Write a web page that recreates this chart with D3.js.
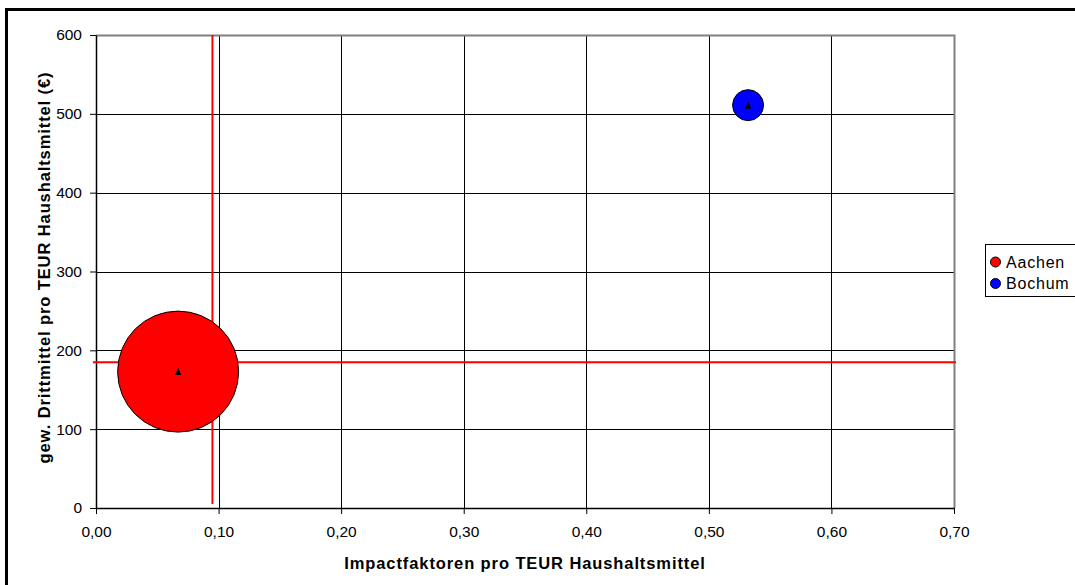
<!DOCTYPE html>
<html>
<head>
<meta charset="utf-8">
<script src="https://cdn.jsdelivr.net/npm/d3@7/dist/d3.min.js"></script>
<style>
  html, body { margin: 0; padding: 0; background: #fff; }
  svg { display: block; font-family: Arial, "Liberation Sans", sans-serif; }
</style>
</head>
<body>
<svg id="chart" width="1075" height="585"></svg>
<script>
// Universities, their coordinates and bubble sizes
const universities = ["Aachen", "Bochum"];
const impactPerTEUR = [0.067, 0.532];
const drittmittelPerTEUR = [173, 511];
const bubbleSize = [3050, 200];
const bubbleColors = ["#ff0000", "#0000ff"];

// Reference (average) lines
const refImpact = 0.095;
const refDrittmittel = 185;

// Axis ticks
const xTicks = [0, 0.1, 0.2, 0.3, 0.4, 0.5, 0.6, 0.7];
const yTicks = [0, 100, 200, 300, 400, 500, 600];

const svg = d3.select("#chart");
const plot = { left: 96, top: 35, right: 954, bottom: 508 };

const x = d3.scaleLinear().domain([0, 0.7]).range([plot.left, plot.right]);
const y = d3.scaleLinear().domain([0, 600]).range([plot.bottom, plot.top]);
const r = d3.scaleSqrt().domain([0, d3.max(bubbleSize)]).range([0, 60.5]);
const fmtX = v => d3.format(".2f")(v).replace(".", ",");

// outer chart frame
svg.append("rect")
  .attr("x", 6.5).attr("y", 9.5)
  .attr("width", 1100).attr("height", 600)
  .attr("fill", "none").attr("stroke", "#000").attr("stroke-width", 3);

// gridlines
svg.append("g").selectAll("line.v").data(xTicks.slice(1, -1)).join("line")
  .attr("x1", d => Math.round(x(d)) + 0.5).attr("x2", d => Math.round(x(d)) + 0.5)
  .attr("y1", plot.top).attr("y2", plot.bottom)
  .attr("stroke", "#000").attr("stroke-width", 1);
svg.append("g").selectAll("line.h").data(yTicks.slice(1, -1)).join("line")
  .attr("x1", plot.left).attr("x2", plot.right)
  .attr("y1", d => Math.round(y(d)) + 0.5).attr("y2", d => Math.round(y(d)) + 0.5)
  .attr("stroke", "#000").attr("stroke-width", 1);

// plot area border (top / right in grey)
svg.append("path")
  .attr("d", `M${plot.left},${plot.top + 0.5}H${plot.right + 0.5}V${plot.bottom}`)
  .attr("fill", "none").attr("stroke", "#808080").attr("stroke-width", 2);

// axes
const xAxis = svg.append("g")
  .attr("transform", `translate(0,${plot.bottom})`)
  .call(d3.axisBottom(x).tickValues(xTicks).tickFormat(fmtX).tickSizeOuter(0).tickSizeInner(6).tickPadding(12));
const yAxis = svg.append("g")
  .attr("transform", `translate(${plot.left},0)`)
  .call(d3.axisLeft(y).tickValues(yTicks).tickSizeOuter(0).tickSizeInner(6).tickPadding(8));
[xAxis, yAxis].forEach(g => {
  g.select(".domain").attr("stroke", "#000").attr("stroke-width", 1.5);
  g.selectAll(".tick line").attr("stroke", "#000");
  g.selectAll(".tick text").attr("fill", "#000").attr("font-size", 15.5)
    .attr("font-family", "Arial, 'Liberation Sans', sans-serif");
});

// reference lines
svg.append("line")
  .attr("x1", x(refImpact)).attr("x2", x(refImpact))
  .attr("y1", y(600)).attr("y2", y(5))
  .attr("stroke", "#ff0000").attr("stroke-width", 2);
svg.append("line")
  .attr("x1", x(-0.0025)).attr("x2", x(0.7015))
  .attr("y1", y(refDrittmittel)).attr("y2", y(refDrittmittel))
  .attr("stroke", "#ff0000").attr("stroke-width", 2);

// bubbles
const pts = universities.map((u, i) => ({
  name: u, xv: impactPerTEUR[i], yv: drittmittelPerTEUR[i], s: bubbleSize[i], c: bubbleColors[i]
}));
svg.append("g").selectAll("circle").data(pts).join("circle")
  .attr("cx", d => x(d.xv)).attr("cy", d => y(d.yv)).attr("r", d => r(d.s))
  .attr("fill", d => d.c).attr("stroke", "#000").attr("stroke-width", 1);

// small triangle markers at the data points
svg.append("g").selectAll("path").data(pts).join("path")
  .attr("d", d => {
    const cx = x(d.xv), cy = y(d.yv);
    return `M${cx},${cy - 4}L${cx + 3},${cy + 3.5}L${cx - 3},${cy + 3.5}Z`;
  })
  .attr("fill", "#000");

// axis titles
svg.append("text")
  .attr("x", (plot.left + plot.right) / 2).attr("y", 569)
  .attr("text-anchor", "middle").attr("font-weight", "bold").attr("font-size", 16.5)
  .attr("letter-spacing", 0.9)
  .text("Impactfaktoren pro TEUR Haushaltsmittel");
svg.append("text")
  .attr("transform", `translate(50,${(plot.top + plot.bottom) / 2 - 4}) rotate(-90)`)
  .attr("text-anchor", "middle").attr("font-weight", "bold").attr("font-size", 16.5)
  .attr("letter-spacing", 0.9)
  .text("gew. Drittmittel pro TEUR Haushaltsmittel (€)");

// legend
const legend = svg.append("g");
legend.append("rect")
  .attr("x", 985.5).attr("y", 244.5).attr("width", 120).attr("height", 52)
  .attr("fill", "#fff").attr("stroke", "#000").attr("stroke-width", 1);
const items = legend.selectAll("g.item").data(pts).join("g")
  .attr("transform", (d, i) => `translate(0,${262 + i * 21.5})`);
items.append("circle").attr("cx", 995.5).attr("cy", 0).attr("r", 5)
  .attr("fill", d => d.c).attr("stroke", "#000").attr("stroke-width", 1);
items.append("text").attr("x", 1006).attr("y", 5.5)
  .attr("font-size", 16).attr("letter-spacing", 0.8)
  .text(d => d.name);
</script>
</body>
</html>
